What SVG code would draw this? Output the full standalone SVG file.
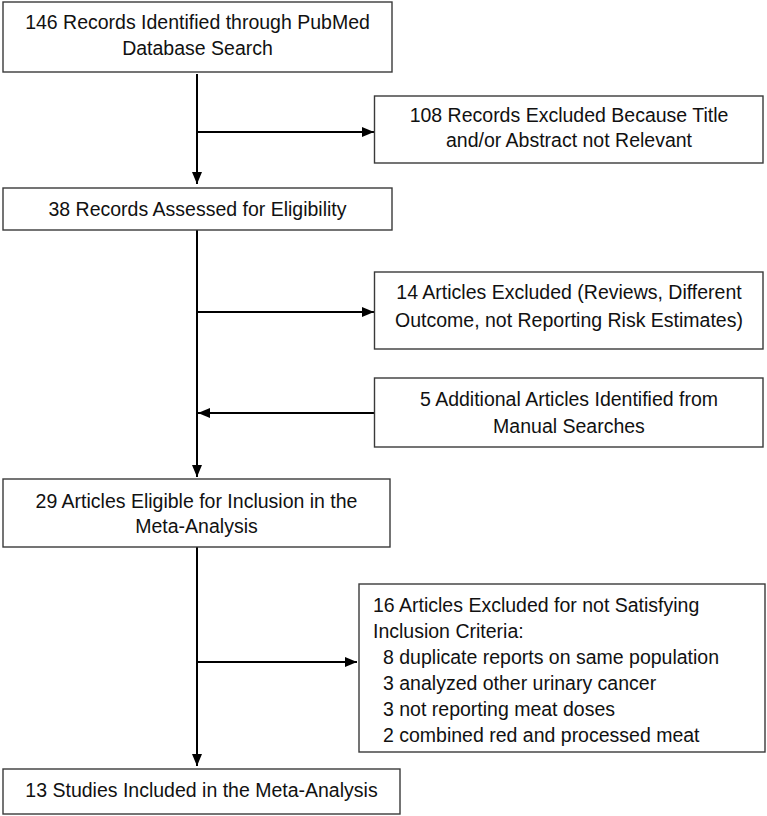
<svg xmlns="http://www.w3.org/2000/svg" width="767" height="816" viewBox="0 0 767 816">
<style>
.box{fill:#fff;stroke:#3a3a3a;stroke-width:1.4}
.t{font-family:"Liberation Sans",Arial,sans-serif;font-size:19.5px;fill:#111}
.c{text-anchor:middle}
.conn{stroke:#000;stroke-width:2;fill:none}
</style>
<defs>
<marker id="ah" viewBox="0 0 12 10" refX="12" refY="5" markerWidth="12" markerHeight="10" orient="auto" markerUnits="userSpaceOnUse">
<path d="M0,0 L12,5 L0,10 z" fill="#000"/>
</marker>
</defs>
<rect width="767" height="816" fill="#fff"/>
<g id="connectors">
<path class="conn" d="M197,74 V184" marker-end="url(#ah)"/>
<path class="conn" d="M197,132 H374" marker-end="url(#ah)"/>
<path class="conn" d="M197,230 V477" marker-end="url(#ah)"/>
<path class="conn" d="M197,312 H374" marker-end="url(#ah)"/>
<path class="conn" d="M374,413 H198" marker-end="url(#ah)"/>
<path class="conn" d="M197,547 V766" marker-end="url(#ah)"/>
<path class="conn" d="M197,662 H357" marker-end="url(#ah)"/>
</g>
<g id="n1">
<rect class="box" x="3" y="2" width="389" height="70"/>
<text class="t c" x="197.5" y="29">146 Records Identified through PubMed</text>
<text class="t c" x="197.5" y="55">Database Search</text>
</g>
<g id="n2">
<rect class="box" x="374.5" y="96" width="388.5" height="67"/>
<text class="t c" x="569" y="122">108 Records Excluded Because Title</text>
<text class="t c" x="569" y="147">and/or Abstract not Relevant</text>
</g>
<g id="n3">
<rect class="box" x="3" y="188" width="389" height="42"/>
<text class="t c" x="197.5" y="216">38 Records Assessed for Eligibility</text>
</g>
<g id="n4">
<rect class="box" x="374.5" y="272" width="388.5" height="77"/>
<text class="t c" x="569" y="299">14 Articles Excluded (Reviews, Different</text>
<text class="t c" x="569" y="327">Outcome, not Reporting Risk Estimates)</text>
</g>
<g id="n5">
<rect class="box" x="374.5" y="378" width="388.5" height="69"/>
<text class="t c" x="569" y="406">5 Additional Articles Identified from</text>
<text class="t c" x="569" y="433">Manual Searches</text>
</g>
<g id="n6">
<rect class="box" x="3" y="479" width="387" height="68"/>
<text class="t c" x="196.5" y="508">29 Articles Eligible for Inclusion in the</text>
<text class="t c" x="196.5" y="533">Meta-Analysis</text>
</g>
<g id="n7">
<rect class="box" x="359" y="584" width="406" height="168"/>
<text class="t" x="373" y="612">16 Articles Excluded for not Satisfying</text>
<text class="t" x="373" y="638">Inclusion Criteria:</text>
<text class="t" x="383" y="664">8 duplicate reports on same population</text>
<text class="t" x="383" y="690">3 analyzed other urinary cancer</text>
<text class="t" x="383" y="716">3 not reporting meat doses</text>
<text class="t" x="383" y="742">2 combined red and processed meat</text>
</g>
<g id="n8">
<rect class="box" x="3" y="769" width="397" height="45"/>
<text class="t c" x="201.5" y="797">13 Studies Included in the Meta-Analysis</text>
</g>
</svg>
